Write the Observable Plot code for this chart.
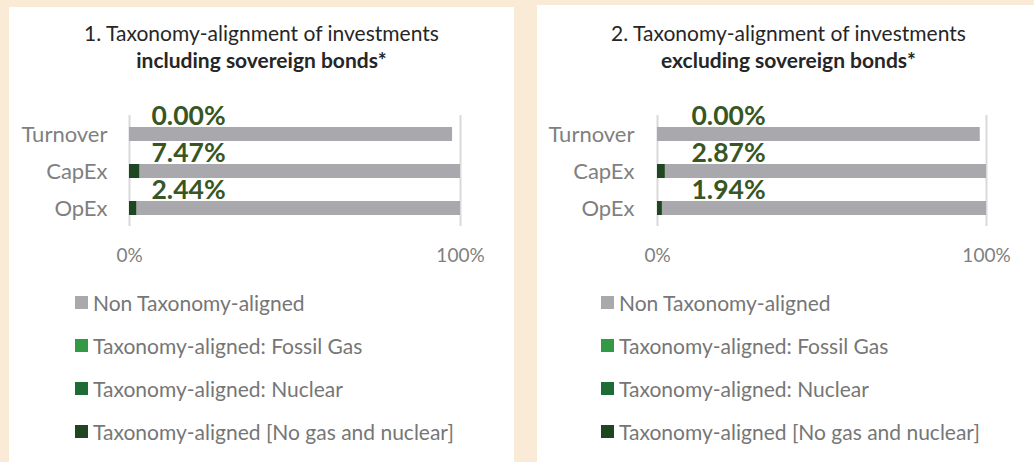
<!DOCTYPE html>
<html><head><meta charset="utf-8">
<script src="https://cdn.jsdelivr.net/npm/d3@7"></script>
<script src="https://cdn.jsdelivr.net/npm/@observablehq/plot@0.6"></script>
<style>
body{margin:0;background:#FAEBD7;width:1034px;height:462px;overflow:hidden;font-family:Lato,"Open Sans",sans-serif;position:relative}
.panel{position:absolute;background:#fff}
.title{position:absolute;text-align:center;color:#262626;font-size:21px;line-height:27px}
.title b{font-weight:700}
.chart{position:absolute}
.legend{position:absolute}
.row{display:flex;align-items:center;height:42.8px;color:#767676;font-size:21px;white-space:nowrap}
.sw{width:13px;height:13px;margin-right:5px;flex:none}
</style></head><body>
<script>
// ---- data ----
const categories = ["Turnover", "CapEx", "OpEx"];
const seriesNames = [
  "Taxonomy-aligned [No gas and nuclear]",
  "Taxonomy-aligned: Fossil Gas",
  "Taxonomy-aligned: Nuclear",
  "Non Taxonomy-aligned"
];
const legendOrder = [
  "Non Taxonomy-aligned",
  "Taxonomy-aligned: Fossil Gas",
  "Taxonomy-aligned: Nuclear",
  "Taxonomy-aligned [No gas and nuclear]"
];
const seriesColors = ["#1E4620", "#339944", "#1F6B36", "#A9A9AD"];

// Panel 1: including sovereign bonds (bar lengths in %)
const inclNoGasNuclear = [0, 3.2, 2.3];
const inclFossilGas = [0, 0, 0];
const inclNuclear = [0, 0, 0];
const inclNonAligned = [97.6, 96.8, 97.7];
const inclLabels = ["0.00%", "7.47%", "2.44%"];

// Panel 2: excluding sovereign bonds
const exclNoGasNuclear = [0, 2.4, 1.5];
const exclFossilGas = [0, 0, 0];
const exclNuclear = [0, 0, 0];
const exclNonAligned = [98.1, 97.6, 98.5];
const exclLabels = ["0.00%", "2.87%", "1.94%"];

const xTicks = [0, 100];
const titles1 = ["1. Taxonomy-alignment of investments", "including sovereign bonds*"];
const titles2 = ["2. Taxonomy-alignment of investments", "excluding sovereign bonds*"];

function table(a, g, n, non) {
  const rows = [];
  categories.forEach((c, i) => {
    [a, g, n, non].forEach((arr, k) => rows.push({cat: c, series: seriesNames[k], value: arr[i]}));
  });
  return rows;
}

function el(tag, cls, style, html) {
  const e = document.createElement(tag);
  if (cls) e.className = cls;
  Object.assign(e.style, style || {});
  if (html != null) e.innerHTML = html;
  document.body.appendChild(e);
  return e;
}

function panel(cfg) {
  el("div", "panel", {left: cfg.px + "px", top: cfg.py + "px", width: cfg.pw + "px", height: (462 - cfg.py) + "px"});
  el("div", "title", {left: cfg.tx + "px", top: "19px", width: cfg.pw + "px"},
     cfg.titles[0] + "<br><b>" + cfg.titles[1] + "</b>");

  const data = table(...cfg.series);
  const labelData = categories.map((c, i) => ({cat: c, label: cfg.labels[i]}));

  const chart = Plot.plot({
    width: cfg.pw,
    height: 181,
    marginTop: 20,
    marginBottom: 50,
    marginLeft: cfg.ml,
    marginRight: cfg.mr,
    style: {fontFamily: "Lato, 'Open Sans', sans-serif", color: "#7f7f7f", background: "transparent"},
    x: {domain: [0, 100]},
    y: {domain: categories, paddingInner: 0.627, paddingOuter: 0.293},
    color: {domain: seriesNames, range: seriesColors},
    marks: [
      Plot.ruleX(xTicks, {stroke: "#D9D9D9", strokeWidth: 2}),
      Plot.barX(data, {x: "value", y: "cat", fill: "series", order: seriesNames}),
      Plot.text(labelData, {x: 0, y: "cat", text: "label", textAnchor: "start", lineAnchor: "bottom",
        dx: cfg.ldx, dy: -10, fill: "#375623", fontSize: 26.5, fontWeight: "bold"}),
      Plot.axisY({tickSize: 0, tickPadding: cfg.ypad, fontSize: 22, label: null, fill: "#7f7f7f"}),
      Plot.axisX({ticks: xTicks, tickFormat: d => d + "%", tickSize: 0, tickPadding: 22, fontSize: 19, label: null, fill: "#7f7f7f"})
    ]
  });
  const c = el("div", "chart", {left: cfg.px + "px", top: "95px"});
  c.appendChild(chart);

  const lg = el("div", "legend", {left: cfg.lx + "px", top: (303 - 21.4) + "px"});
  legendOrder.forEach(s => {
    const r = document.createElement("div");
    r.className = "row";
    const sw = document.createElement("span");
    sw.className = "sw";
    sw.style.background = seriesColors[seriesNames.indexOf(s)];
    r.appendChild(sw);
    r.appendChild(document.createTextNode(s));
    lg.appendChild(r);
  });
}

panel({px: 9, py: 7, pw: 505, tx: 9, ml: 120, mr: 54, ypad: 22, ldx: 22, lx: 75,
  titles: titles1, labels: inclLabels,
  series: [inclNoGasNuclear, inclFossilGas, inclNuclear, inclNonAligned]});
panel({px: 537, py: 5, pw: 497, tx: 540, ml: 120, mr: 48, ypad: 23, ldx: 34, lx: 601,
  titles: titles2, labels: exclLabels,
  series: [exclNoGasNuclear, exclFossilGas, exclNuclear, exclNonAligned]});
</script>
</body></html>
